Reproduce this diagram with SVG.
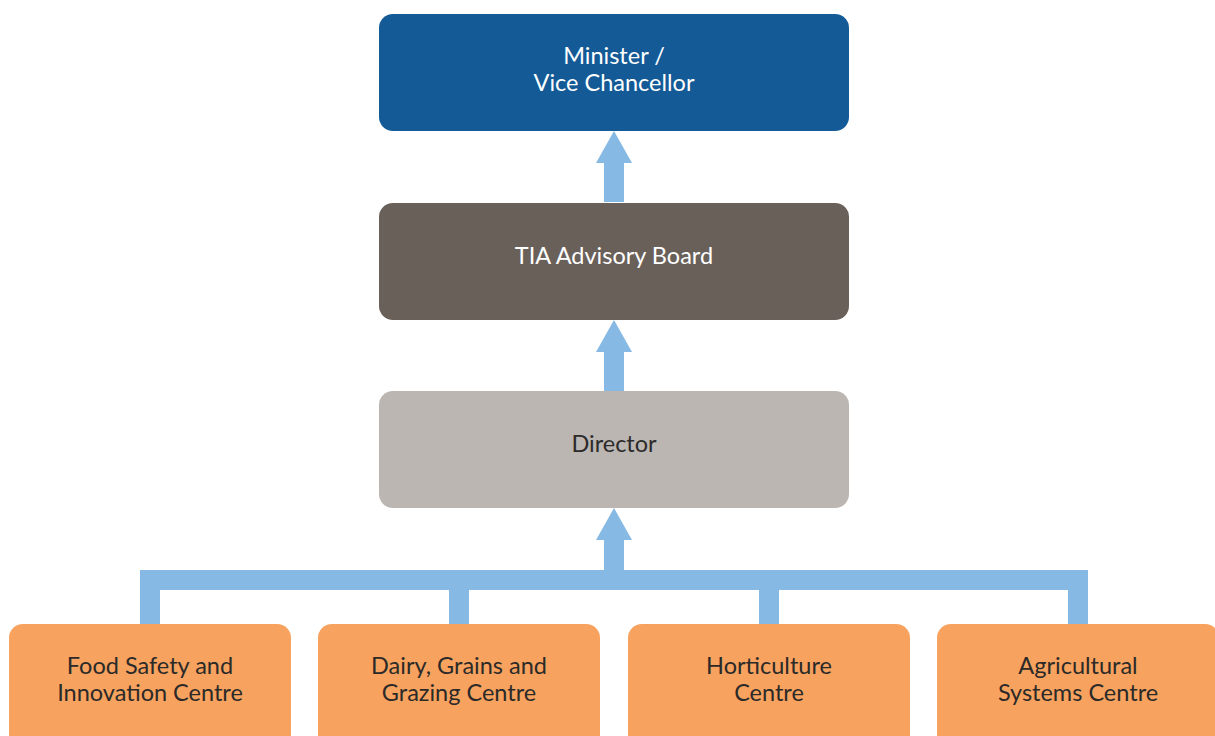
<svg xmlns="http://www.w3.org/2000/svg" width="1215" height="736" viewBox="0 0 1215 736">
<style>
.t{font-family:Lato,"Open Sans","Liberation Sans",sans-serif;font-size:23.5px;text-anchor:middle}
.w{fill:#ffffff}
.d{fill:#2b2a29}
.conn{fill:#86b9e3}
</style>
<defs>
<path id="arr" d="M0 0 L18 32 L10 32 L10 71 L-10 71 L-10 32 L-18 32 Z"/>
</defs>
<rect width="1215" height="736" fill="#ffffff"/>
<g id="connectors" class="conn">
<use href="#arr" x="614" y="131"/>
<use href="#arr" x="614" y="320"/>
<path d="M614 508 L632 540 L624 540 L624 570 L1088 570 L1088 630 L1068 630 L1068 590 L779 590 L779 630 L759 630 L759 590 L469 590 L469 630 L449 630 L449 590 L160 590 L160 630 L140 630 L140 570 L604 570 L604 540 L596 540 Z"/>
</g>
<g id="n-minister">
<rect x="379" y="14" width="470" height="117" rx="14" fill="#135a96"/>
<text class="t w" x="614" y="64">Minister /</text>
<text class="t w" x="614" y="91">Vice Chancellor</text>
</g>
<g id="n-board">
<rect x="379" y="203" width="470" height="117" rx="14" fill="#6a605a"/>
<text class="t w" x="614" y="264">TIA Advisory Board</text>
</g>
<g id="n-director">
<rect x="379" y="391" width="470" height="117" rx="14" fill="#bcb6b2"/>
<text class="t d" x="614" y="452">Director</text>
</g>
<g id="n-food">
<rect x="9" y="624" width="282" height="130" rx="14" fill="#f7a25e"/>
<text class="t d" x="150" y="674">Food Safety and</text>
<text class="t d" x="150" y="701">Innovation Centre</text>
</g>
<g id="n-dairy">
<rect x="318" y="624" width="282" height="130" rx="14" fill="#f7a25e"/>
<text class="t d" x="459" y="674">Dairy, Grains and</text>
<text class="t d" x="459" y="701">Grazing Centre</text>
</g>
<g id="n-hort">
<rect x="628" y="624" width="282" height="130" rx="14" fill="#f7a25e"/>
<text class="t d" x="769" y="674">Horticulture</text>
<text class="t d" x="769" y="701">Centre</text>
</g>
<g id="n-agri">
<rect x="937" y="624" width="282" height="130" rx="14" fill="#f7a25e"/>
<text class="t d" x="1078" y="674">Agricultural</text>
<text class="t d" x="1078" y="701">Systems Centre</text>
</g>
</svg>
